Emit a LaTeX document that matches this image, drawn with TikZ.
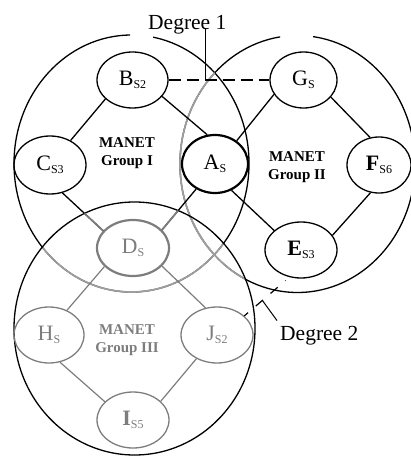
\documentclass[tikz,border=0pt]{standalone}
\usepackage{fontspec}
\setmainfont{Liberation Serif}
\usetikzlibrary{shapes.geometric,calc}

\definecolor{grpgray}{RGB}{125,125,125}
\definecolor{arcgray}{RGB}{158,158,158}

% node label: large letter with a lowered small index
\newcommand{\nlab}[2]{{\fontsize{22}{22}\selectfont #1}\raisebox{-3pt}{\fontsize{12}{12}\selectfont #2}}

\begin{document}
\begin{tikzpicture}[x=1pt,y=-1pt,
  ring/.style={line width=1.3pt},
  ringfade/.style={draw=arcgray, line width=1.7pt},
  member/.style={ellipse, draw, line width=1.3pt, inner sep=0pt,
                 minimum width=71pt, minimum height=56pt},
  head/.style={member, line width=2.2pt},
  faded/.style={draw=grpgray, text=grpgray},
  link/.style={line width=1.3pt},
  fadelink/.style={draw=grpgray, line width=1.2pt},
  overlink/.style={draw=grpgray, line width=1.7pt},
  bridge/.style={line width=2.4pt, dash pattern=on 12pt off 6pt},
  bridgetwo/.style={line width=1.2pt, dash pattern=on 9.5pt off 10pt,
                    dash phase=4.5pt, shorten >=5pt},
  leader/.style={line width=1pt},
  grplab/.style={align=center, inner sep=0pt,
                 font=\fontsize{15}{18}\selectfont\bfseries},
  deglab/.style={anchor=base west, inner sep=0pt,
                 font=\fontsize{21.5}{24}\selectfont}
]
\useasboundingbox (0,0) rectangle (411,457);

% group areas
\coordinate (g1) at (131.5,163.5);
\coordinate (g2) at (297.5,164);
\coordinate (g3) at (134.5,328.5);
\tikzset{
  gIshape/.style={x radius=117.5pt, y radius=128.5pt},
  gIIIshape/.style={x radius=120.5pt, y radius=126.5pt}
}

% group I outline, open at the top
\begin{scope}
  \clip (-20,-20) rectangle (130,480) (153,-20) rectangle (440,480)
        (-20,60) rectangle (440,480);
  \draw[ring] (g1) ellipse [gIshape];
\end{scope}
% group II outline, open at the top
\begin{scope}
  \clip (-20,-20) rectangle (280,480) (313,-20) rectangle (440,480)
        (-20,60) rectangle (440,480);
  \draw[ring] (g2) ellipse [gIshape];
\end{scope}
% group II outline fades inside group I
\begin{scope}
  \clip (g1) ellipse [gIshape];
  \draw[ringfade] (g2) ellipse [gIshape];
\end{scope}
% both outlines fade inside group III
\begin{scope}
  \clip (g3) ellipse [gIIIshape];
  \draw[ringfade] (g1) ellipse [gIshape];
  \draw[ringfade] (g2) ellipse [gIshape];
\end{scope}
\draw[ring] (g3) ellipse [gIIIshape];

% members of groups I and II
\node[member] (B) at (132.5,80) {\nlab{B}{S2}};
\node[member, minimum width=67pt] (G) at (303.5,80) {\nlab{G}{S}};
\node[member, minimum width=72pt, minimum height=58pt] (C) at (50,165) {\nlab{C}{S3}};
\node[head, minimum width=66pt, minimum height=58pt] (A) at (215,164) {\nlab{A}{S}};
\node[member, minimum width=64pt] (F) at (379,165) {\nlab{\bfseries F}{S6}};
\node[member, minimum width=72pt] (E) at (301,250) {\nlab{\bfseries E}{S3}};

% members of group III
\node[head, faded, minimum width=72pt] (D) at (133,248) {\nlab{D}{S}};
\node[member, faded, minimum width=70pt] (H) at (49,335) {\nlab{H}{S}};
\node[member, faded, minimum width=72pt] (J) at (217,335) {\nlab{J}{S2}};
\node[member, faded, minimum width=72pt] (I) at (133,420) {\nlab{\bfseries I}{S5}};

% group captions
\node[grplab] (m1) at (127,153) {MANET\\Group I};
\node[grplab] (m2) at (297,167) {MANET\\Group II};
\node[grplab, text=grpgray] (m3) at (127,340) {MANET\\Group III};

% links
\draw[link] (B.215) -- (C.50);
\draw[link] (B.331) -- (A.105);
\draw[link] (A.47) -- (G.206);
\draw[link] (G.328) -- (F.108);
\draw[link] (F.253) -- (E.25);
\draw[link] (A.302) -- (E.144);
\draw[link] (C.294) -- (D.150);
\draw[link] (A.233) -- (D.32);
\begin{scope}
  \clip (g3) ellipse [gIIIshape];
  \draw[overlink] (C.294) -- (D.150);
  \draw[overlink] (A.233) -- (D.32);
\end{scope}
\draw[fadelink] (D.213) -- (H.54);
\draw[fadelink] (D.328) -- (J.113);
\draw[fadelink] (H.292) -- (I.147);
\draw[fadelink] (J.229) -- (I.34);

% links between groups
\draw[bridge] (B.east) -- (G.west);
\draw[bridgetwo] (J.35) -- (E.247);

% degree captions with their leaders
\node[deglab] (d1) at (148,30) {Degree 1};
\node[deglab] (d2) at (280,340) {Degree 2};
\coordinate (k1) at (205.5,80);
\draw[leader] (k1) -- ($(k1 |- d1.base)+(0,-2)$);
\coordinate (k2) at ($(J.35)!0.4!(E.247)$);
\coordinate (k2e) at ($(d2.north west)+(-3,-5)$);
\draw[leader] (k2) -- (k2e);
\end{tikzpicture}
\end{document}
